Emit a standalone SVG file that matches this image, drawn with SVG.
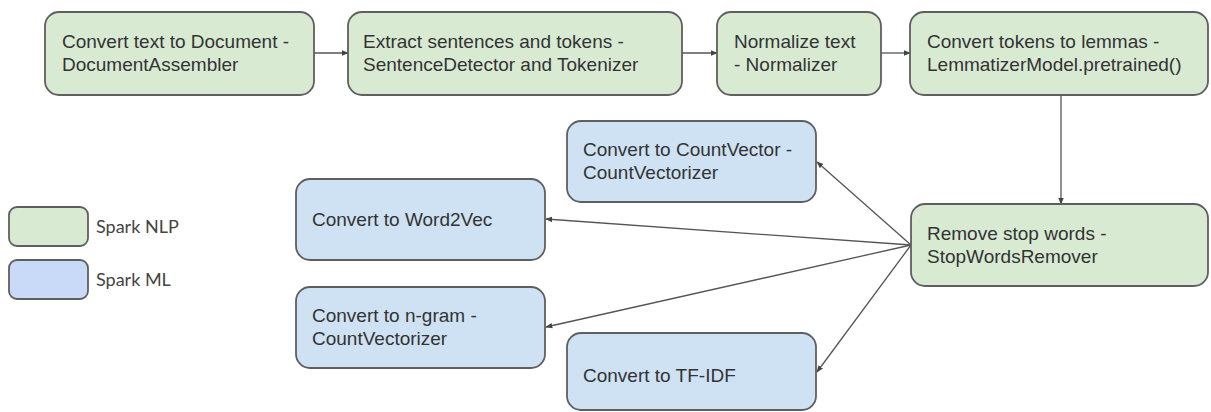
<svg xmlns="http://www.w3.org/2000/svg" width="1211" height="412" viewBox="0 0 1211 412">
<defs>
<style>
.g{fill:#d9ead3;stroke:#5f5f5f;stroke-width:1.8}
.b{fill:#cfe2f3;stroke:#5f5f5f;stroke-width:1.8}
.lb{fill:#c9daf8;stroke:#5f5f5f;stroke-width:1.8}
.t{font-family:"Liberation Sans",Arial,sans-serif;font-size:19px;fill:#333333}
.l{font-family:Lato,"Open Sans",sans-serif;font-size:18px;fill:#444444}
.c{stroke:#555555;stroke-width:1.3;fill:none;marker-end:url(#ah)}
</style>
<marker id="ah" viewBox="0 0 10 10" refX="9" refY="5" markerWidth="7" markerHeight="7" orient="auto" markerUnits="userSpaceOnUse">
<path d="M0,1 L10,5 L0,9 z" fill="#444444"/>
</marker>
</defs>
<rect width="1211" height="412" fill="#ffffff"/>
<g id="connectors">
<line class="c" x1="314" y1="53" x2="348" y2="53"/>
<line class="c" x1="682" y1="53" x2="717" y2="53"/>
<line class="c" x1="881" y1="53" x2="910" y2="53"/>
<line class="c" x1="1061" y1="95" x2="1061" y2="204"/>
<line class="c" x1="911" y1="245" x2="817" y2="162"/>
<line class="c" x1="911" y1="245" x2="546" y2="219"/>
<line class="c" x1="911" y1="245" x2="546" y2="327"/>
<line class="c" x1="911" y1="245" x2="817" y2="372"/>
</g>
<g id="n1"><rect class="g" x="45" y="12" width="269" height="83" rx="14"/>
<text class="t" x="62" y="48">Convert text to Document -</text><text class="t" x="62" y="71">DocumentAssembler</text></g>
<g id="n2"><rect class="g" x="348" y="12" width="334" height="83" rx="14"/>
<text class="t" x="363" y="48">Extract sentences and tokens -</text><text class="t" x="363" y="71">SentenceDetector and Tokenizer</text></g>
<g id="n3"><rect class="g" x="717" y="12" width="164" height="83" rx="14"/>
<text class="t" x="734" y="48">Normalize text</text><text class="t" x="734" y="71">- Normalizer</text></g>
<g id="n4"><rect class="g" x="910" y="12" width="298" height="83" rx="14"/>
<text class="t" x="927" y="48">Convert tokens to lemmas -</text><text class="t" x="927" y="71">LemmatizerModel.pretrained()</text></g>
<g id="n5"><rect class="g" x="911" y="204" width="297" height="82" rx="14"/>
<text class="t" x="927" y="240">Remove stop words -</text><text class="t" x="927" y="263">StopWordsRemover</text></g>
<g id="n6"><rect class="b" x="567" y="121" width="249" height="81" rx="14"/>
<text class="t" x="583" y="156">Convert to CountVector -</text><text class="t" x="583" y="179">CountVectorizer</text></g>
<g id="n7"><rect class="b" x="296" y="179" width="249" height="81" rx="14"/>
<text class="t" x="312" y="226">Convert to Word2Vec</text></g>
<g id="n8"><rect class="b" x="296" y="287" width="249" height="81" rx="14"/>
<text class="t" x="312" y="322">Convert to n-gram -</text><text class="t" x="312" y="345">CountVectorizer</text></g>
<g id="n9"><rect class="b" x="567" y="333" width="249" height="77" rx="14"/>
<text class="t" x="583" y="382">Convert to TF-IDF</text></g>
<g id="legend-nlp"><rect class="g" x="9" y="207" width="79" height="39" rx="8"/>
<text class="l" x="96" y="233">Spark NLP</text></g>
<g id="legend-ml"><rect class="lb" x="9" y="260" width="79" height="39" rx="8"/>
<text class="l" x="96" y="286">Spark ML</text></g>
</svg>
